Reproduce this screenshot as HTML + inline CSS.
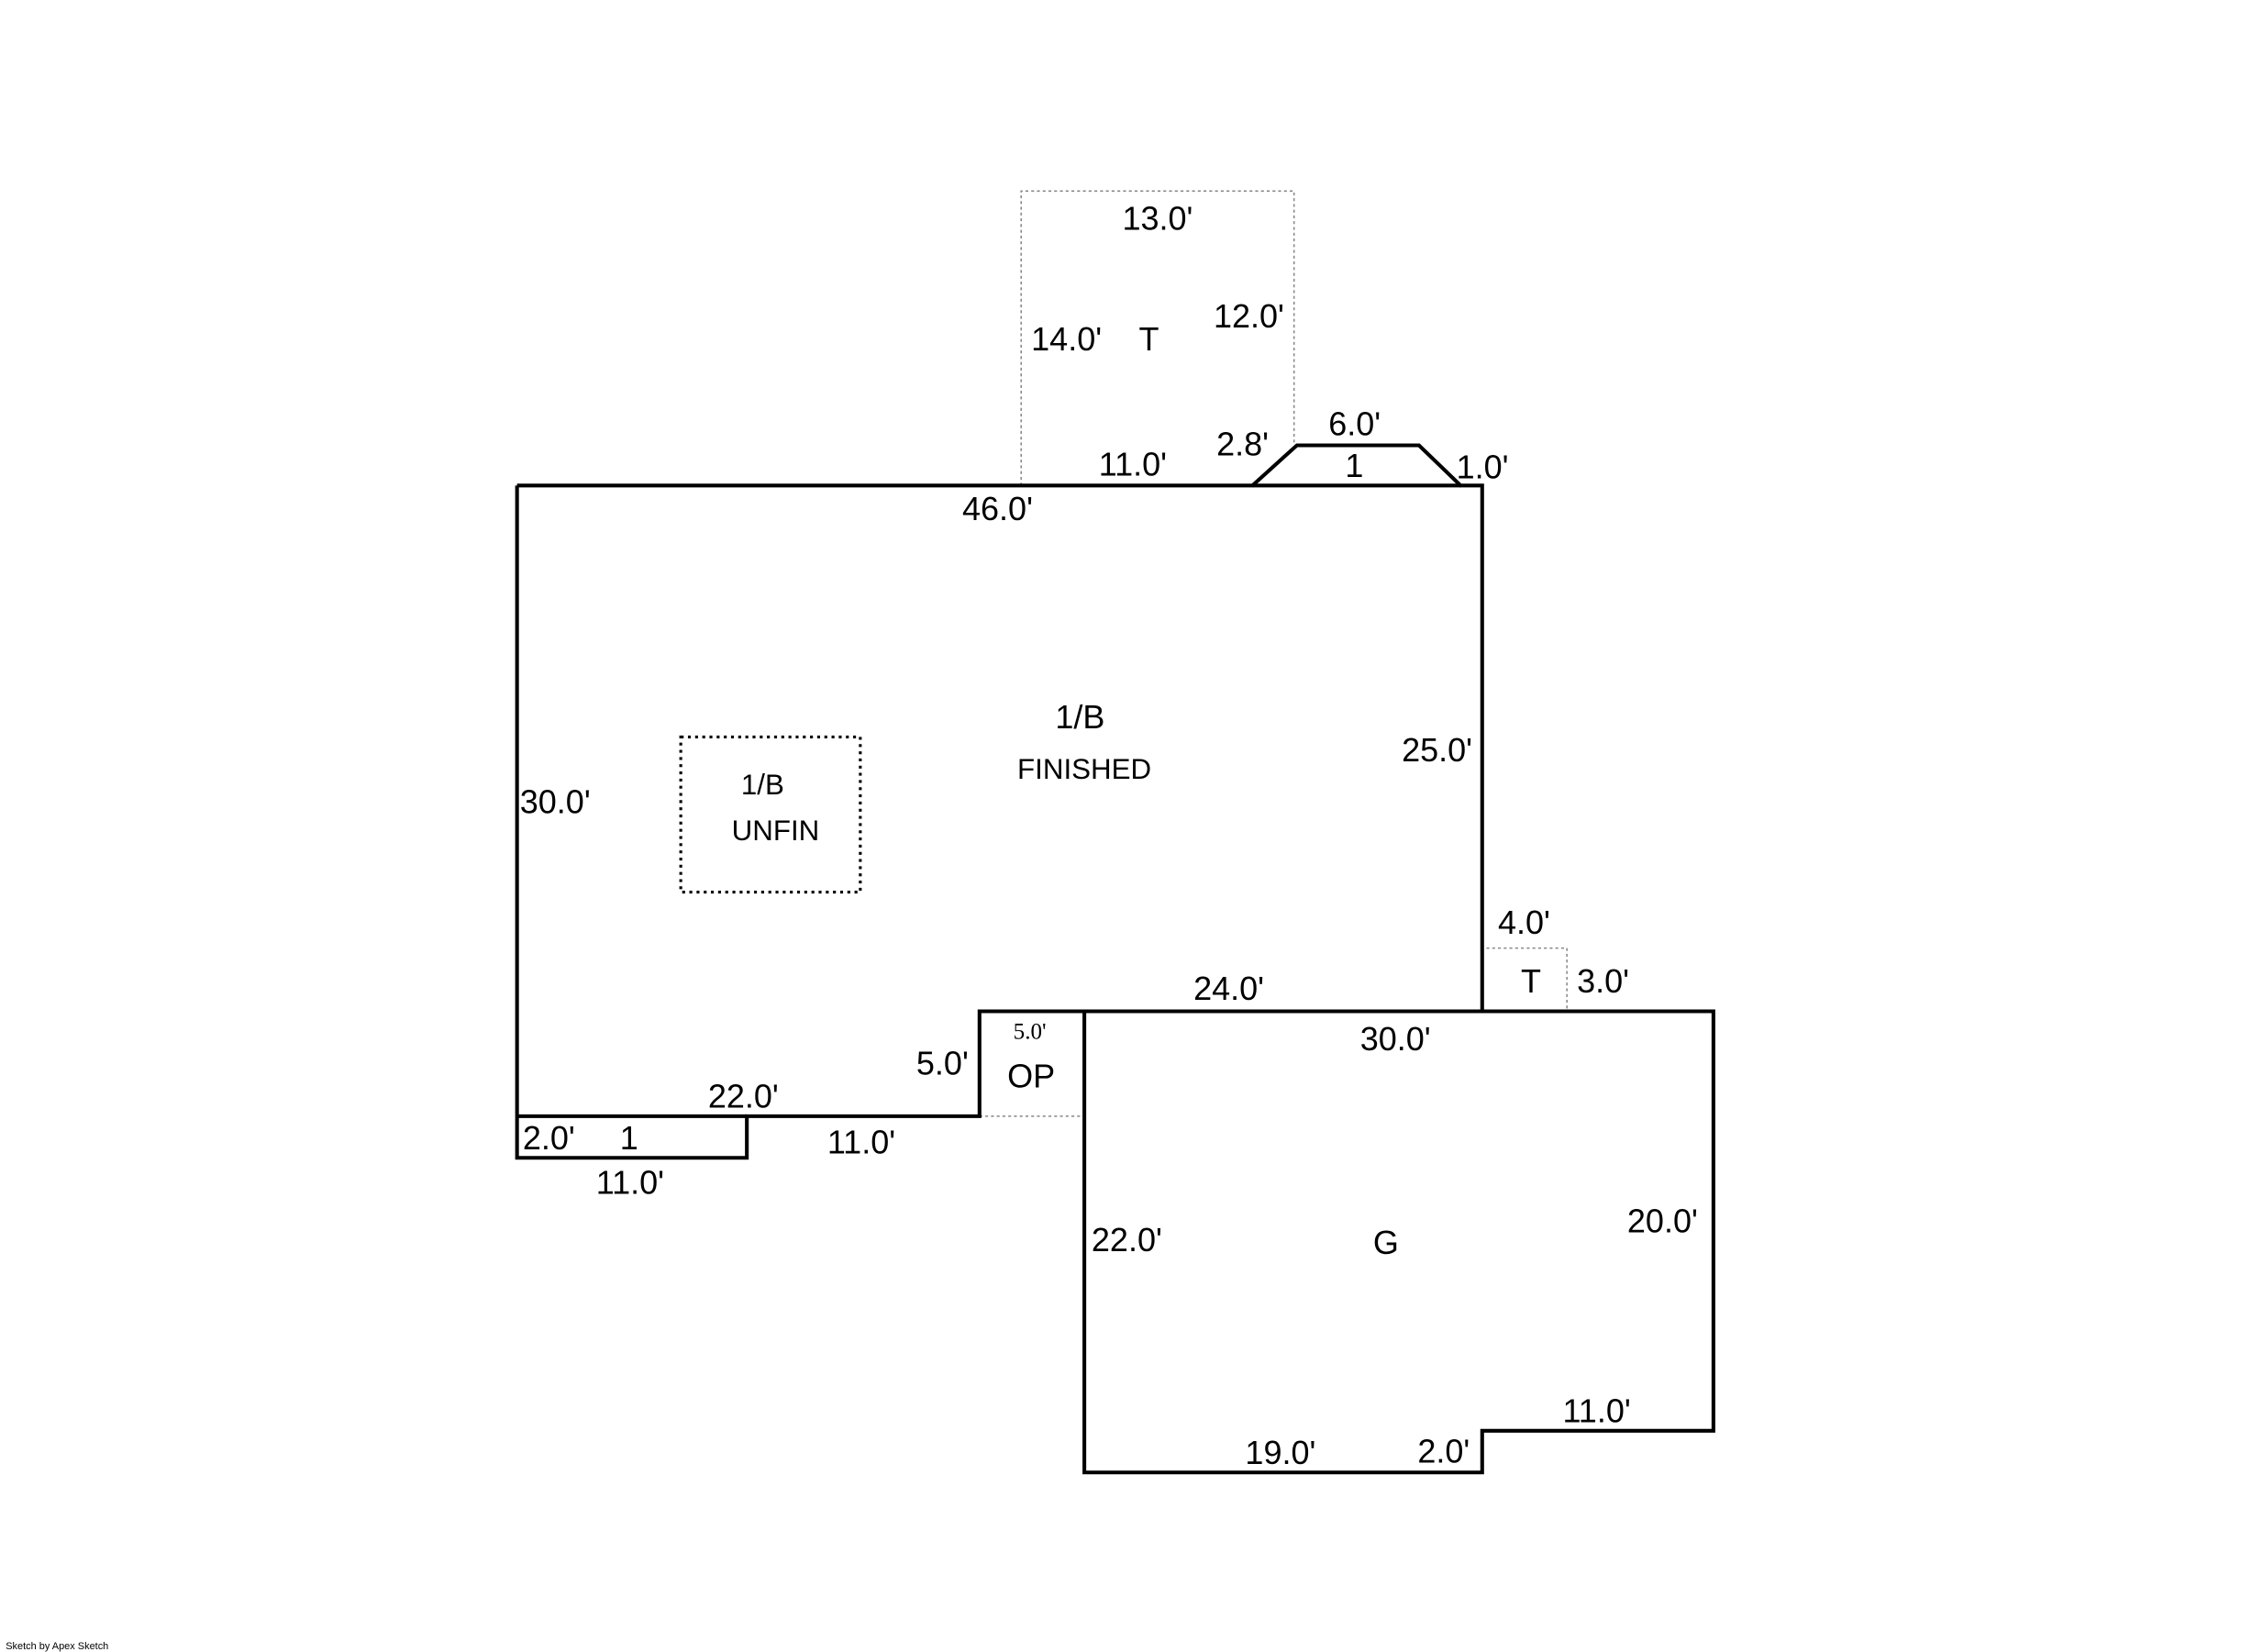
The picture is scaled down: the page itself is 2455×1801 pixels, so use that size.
<!DOCTYPE html>
<html><head><meta charset="utf-8"><style>html,body{margin:0;padding:0;background:#fff}svg{display:block}</style></head>
<body>
<svg width="2455" height="1801" viewBox="0 0 1568 1150" preserveAspectRatio="none" xmlns="http://www.w3.org/2000/svg" font-family="Liberation Sans, Arial, sans-serif" font-size="23" fill="#000">
<rect width="1568" height="1150" fill="#fff"/>
<g fill="none" stroke="#888" stroke-width="1" stroke-dasharray="2,2">
<polyline points="711,338 711,133 901,133 901,310"/>
<polyline points="1035,660 1091,660 1091,704"/>
<line x1="682" y1="777" x2="755" y2="777"/>
</g>
<rect x="474" y="513" width="125" height="108" fill="none" stroke="#000" stroke-width="2" stroke-dasharray="2,3"/>
<g fill="none" stroke="#000" stroke-width="2.6" stroke-linejoin="miter">
<polyline points="360,338 872,338 903,310 988,310 1017,338 1032,338 1032,704 682,704 682,777 520,777 520,806 360,806 360,338"/>
<line x1="872" y1="338" x2="1017" y2="338"/>
<line x1="360" y1="777" x2="520" y2="777"/>
<polygon points="755,704 1193,704 1193,996 1032,996 1032,1025 755,1025"/>
</g>
<g>
<text x="806" y="160" text-anchor="middle">13.0'</text>
<text x="718" y="244">14.0'</text>
<text x="800" y="244" text-anchor="middle">T</text>
<text x="845" y="228">12.0'</text>
<text x="765" y="331">11.0'</text>
<text x="847" y="317">2.8'</text>
<text x="925" y="303">6.0'</text>
<text x="943" y="332" text-anchor="middle">1</text>
<text x="1014" y="333">1.0'</text>
<text x="670" y="362">46.0'</text>
<text x="752" y="507" text-anchor="middle">1/B</text>
<text x="755" y="542" text-anchor="middle" font-size="20">FINISHED</text>
<text x="976" y="530">25.0'</text>
<text x="362" y="566">30.0'</text>
<text x="531" y="553" text-anchor="middle" font-size="20">1/B</text>
<text x="540" y="585" text-anchor="middle" font-size="20">UNFIN</text>
<text x="1043" y="650">4.0'</text>
<text x="1066" y="691" text-anchor="middle">T</text>
<text x="1098" y="691">3.0'</text>
<text x="831" y="696">24.0'</text>
<text x="947" y="731">30.0'</text>
<text x="717" y="723" text-anchor="middle" font-size="16" font-family="Liberation Serif, serif">5.0'</text>
<text x="718" y="757" text-anchor="middle">OP</text>
<text x="638" y="748">5.0'</text>
<text x="493" y="771">22.0'</text>
<text x="364" y="800">2.0'</text>
<text x="438" y="800" text-anchor="middle">1</text>
<text x="576" y="803">11.0'</text>
<text x="415" y="831">11.0'</text>
<text x="760" y="871">22.0'</text>
<text x="965" y="873" text-anchor="middle">G</text>
<text x="1133" y="858">20.0'</text>
<text x="1088" y="990">11.0'</text>
<text x="867" y="1019">19.0'</text>
<text x="987" y="1018">2.0'</text>
<text x="4" y="1148" font-size="7">Sketch by Apex Sketch</text>
</g>
</svg>
</body></html>
